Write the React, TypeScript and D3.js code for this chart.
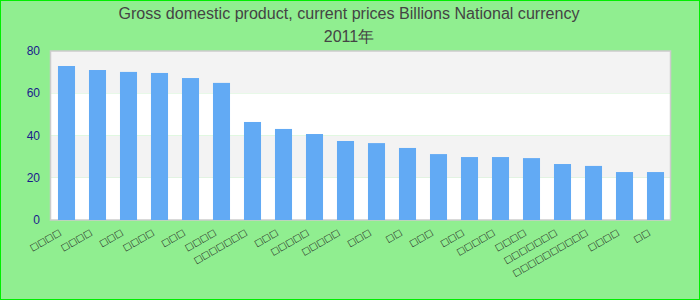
import React from "react";
import * as d3 from "d3";

const W = 700;
const H = 300;

const titleLine1 = "Gross domestic product, current prices Billions National currency";
const titleLine2 = "2011年";

// Category names are unreadable in the reference (missing-glyph boxes); lengths kept.
const categories = [
  "□□□□", "□□□□", "□□□", "□□□□", "□□□", "□□□□",
  "□□□□□□□", "□□□", "□□□□□", "□□□□□", "□□□", "□□",
  "□□□", "□□□", "□□□□□", "□□□□", "□□□□□□□",
  "□□□□□□□□□□", "□□□□", "□□",
];
const values = [
  72.9, 71.0, 70.1, 69.6, 67.2, 64.9, 46.4, 43.1, 40.7, 37.4,
  36.4, 34.1, 31.2, 29.8, 29.8, 29.3, 26.5, 25.6, 22.7, 22.7,
];
const yTicks = [0, 20, 40, 60, 80];

export default function App() {
  const plot = { left: 50.5, right: 670.5, top: 51, bottom: 220 };
  const x = d3
    .scaleBand<number>()
    .domain(d3.range(categories.length))
    .range([plot.left + 0.5, plot.right + 0.5])
    .paddingInner(0.45)
    .paddingOuter(0.225);
  const y = d3.scaleLinear().domain([0, 80]).range([plot.bottom, plot.top]);

  const bands = d3.range(yTicks.length - 1).map((i) => ({
    y0: yTicks[i],
    y1: yTicks[i + 1],
    fill: i % 2 === 0 ? "#ffffff" : "#f3f3f3",
  }));

  return (
    <svg
      width={W}
      height={H}
      style={{ position: "absolute", left: 0, top: 0, display: "block" }}
      fontFamily="'Liberation Sans', Arial, sans-serif"
    >
      <rect x={0.5} y={0.5} width={W - 1} height={H - 1} fill="#90ee90" stroke="#00ee00" strokeWidth={1} />
      <text x={349} y={19} textAnchor="middle" fontSize={16} fill="#444" textLength={461} lengthAdjust="spacingAndGlyphs">
        {titleLine1}
      </text>
      <text x={349} y={42} textAnchor="middle" fontSize={16} fill="#444">
        {titleLine2}
      </text>
      {bands.map((b, i) => (
        <rect
          key={i}
          x={plot.left}
          y={y(b.y1)}
          width={plot.right - plot.left}
          height={y(b.y0) - y(b.y1)}
          fill={b.fill}
        />
      ))}
      <rect
        x={plot.left}
        y={plot.top}
        width={plot.right - plot.left}
        height={plot.bottom - plot.top}
        fill="none"
        stroke="#cccccc"
        strokeWidth={1.5}
      />
      {values.map((v, i) => (
        <rect key={i} x={x(i)} y={y(v)} width={x.bandwidth()} height={plot.bottom - y(v)} fill="#62aaf4" />
      ))}
      {yTicks.map((t) => (
        <text key={t} x={40} y={y(t) + 4} textAnchor="end" fontSize={12} fill="#1a1a8c">
          {t}
        </text>
      ))}
      {categories.map((c, i) => {
        const cx = (x(i) as number) + x.bandwidth() / 2 - 5;
        const cy = 234;
        return (
          <text
            key={i}
            transform={`translate(${cx},${cy}) rotate(-30)`}
            textAnchor="end"
            fontSize={9}
            fill="#222"
            fontFamily="'DejaVu Sans', sans-serif"
          >
            {c}
          </text>
        );
      })}
    </svg>
  );
}
